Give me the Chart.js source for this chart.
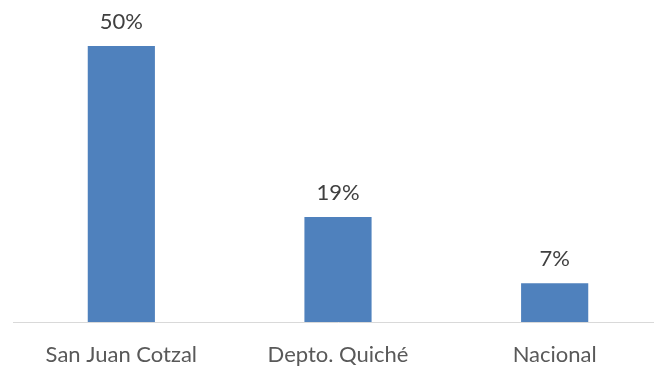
<!DOCTYPE html>
<html><head><meta charset="utf-8">
<script src="https://cdn.jsdelivr.net/npm/chart.js@4/dist/chart.umd.min.js"></script>
<style>
html,body{margin:0;padding:0;background:#fff;overflow:hidden;width:654px;height:370px;}
#wrap{position:absolute;left:0;top:0;width:663px;height:370px;}
</style></head><body>
<div id="wrap"><canvas id="c" width="663" height="370"></canvas></div>
<script>
const categories = ["San Juan Cotzal", "Depto. Quiché", "Nacional"];
const values = [50, 19, 7];
const valueLabels = ["50%", "19%", "7%"];

const FONT = "Lato";
const labelPlugin = {
  id: 'valLabels',
  afterDatasetsDraw(chart) {
    const ctx = chart.ctx;
    const meta = chart.getDatasetMeta(0);
    ctx.save();
    ctx.font = "22px " + FONT;
    ctx.fillStyle = "#404040";
    ctx.textAlign = "center";
    ctx.textBaseline = "alphabetic";
    meta.data.forEach((bar, i) => {
      ctx.fillText(valueLabels[i], bar.x, bar.y - 17);
    });
    ctx.restore();
  }
};

new Chart(document.getElementById('c'), {
  type: 'bar',
  data: {
    labels: categories,
    datasets: [{
      data: values,
      backgroundColor: '#4f81bd',
      barPercentage: 0.62,
      categoryPercentage: 0.5
    }]
  },
  options: {
    responsive: false,
    animation: false,
    events: [],
    layout: { padding: { left: 13, right: 0, top: 46, bottom: 0 } },
    plugins: { legend: { display: false }, tooltip: { enabled: false } },
    scales: {
      y: { display: false, min: 0, max: 50 },
      x: {
        grid: { display: false, drawTicks: false },
        border: { display: true, color: '#d9d9d9', width: 1 },
        ticks: { color: '#595959', font: { family: FONT, size: 22 }, padding: 20, maxRotation: 0, autoSkip: false },
        afterFit(scale) { scale.height = 48; }
      }
    }
  },
  plugins: [labelPlugin]
});
</script>
</body></html>
